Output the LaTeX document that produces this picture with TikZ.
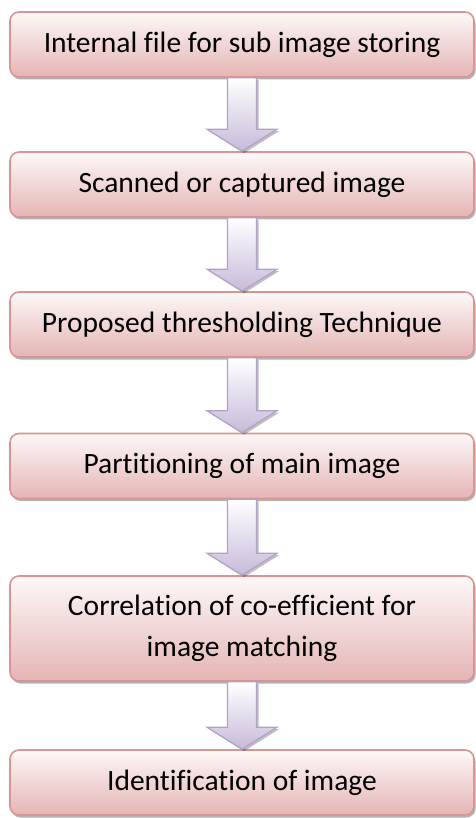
\documentclass[tikz,border=0pt]{standalone}
\usepackage{fontspec}
\setmainfont{Carlito}[Ligatures=NoCommon]
\usetikzlibrary{calc,shadows}

\definecolor{boxline}{HTML}{D99594}
\definecolor{boxtop}{HTML}{FDF8F8}
\definecolor{boxbot}{HTML}{E4B5B4}
\definecolor{arrline}{HTML}{B2A1C7}
\definecolor{arrbot}{HTML}{C7BAD9}

\tikzset{
  stepbox/.style={rounded corners=9pt, draw=boxline, line width=1.6pt,
    top color=boxtop, bottom color=boxbot,
    minimum width=464pt, minimum height=65pt, inner sep=0pt, align=center,
    font=\fontsize{29.5}{41}\selectfont,
    drop shadow={shadow xshift=1.5pt, shadow yshift=-2.5pt, fill=black, opacity=0.3}},
  blockarrow/.style={draw=arrline, line width=1.2pt, line join=miter,
    top color=white, bottom color=arrbot,
    drop shadow={shadow xshift=2pt, shadow yshift=-2pt, fill=black, opacity=0.25}}
}

% fat down arrow from the bottom of #1 to the top of #2
\newcommand{\flowarrow}[2]{%
  \draw[blockarrow] ($(#1.south)+(-14.5,0)$) -- ($(#2.north)+(-14.5,22)$)
    -- ($(#2.north)+(-35,22)$) -- (#2.north) -- ($(#2.north)+(35,22)$)
    -- ($(#2.north)+(14.5,22)$) -- ($(#1.south)+(14.5,0)$) -- cycle;}

\begin{document}
\begin{tikzpicture}[x=1pt,y=1pt]
    \useasboundingbox (0,0) rectangle (475,-818);

    \node[stepbox] (store) at (242,-44.5) {Internal file for sub image storing};
    \node[stepbox] (scan) at (242,-184.5) {Scanned or captured image};
    \node[stepbox] (thresh) at (242,-324.5) {Proposed thresholding Technique};
    \node[stepbox] (part) at (242,-466) {Partitioning of main image};
    \node[stepbox, minimum height=105pt] (corr) at (242,-628.5)
        {Correlation of co-efficient for\\image matching};
    \node[stepbox] (ident) at (242,-782.5) {Identification of image};

    \flowarrow{store}{scan}
    \flowarrow{scan}{thresh}
    \flowarrow{thresh}{part}
    \flowarrow{part}{corr}
    \flowarrow{corr}{ident}
\end{tikzpicture}
\end{document}
